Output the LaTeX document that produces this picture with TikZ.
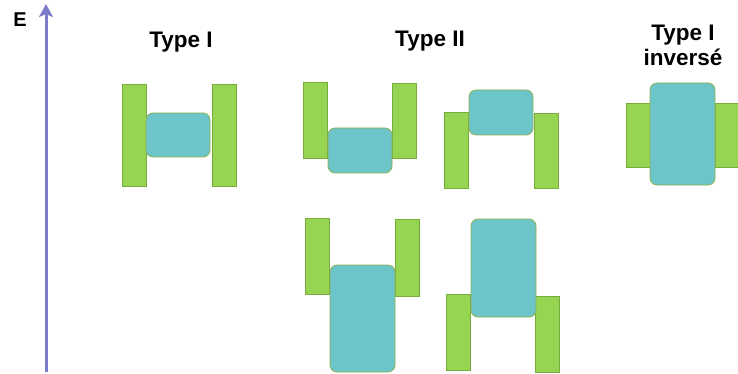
\documentclass[tikz,border=0pt]{standalone}
\usepackage{fontspec}
\setmainfont{Liberation Sans}
\usepackage{tikz}
\usetikzlibrary{arrows.meta}
\definecolor{bargreen}{HTML}{96D552}
\definecolor{barline}{HTML}{78AC3C}
\definecolor{boxblue}{HTML}{6CC5C9}
\definecolor{boxline}{HTML}{8DB050}
\definecolor{axisblue}{HTML}{7B7BCB}
\tikzstyle{bar}=[draw=barline,fill=bargreen,line width=0.8pt,minimum width=24pt,inner sep=0pt]
\tikzstyle{box}=[draw=boxline,fill=boxblue,line width=0.8pt,rounded corners=7pt,inner sep=0pt]
\tikzstyle{title}=[font=\bfseries\fontsize{22.5}{25}\selectfont,align=center,inner sep=0pt]
\tikzstyle{energy} = [draw=axisblue, line width=3pt, -{Stealth[length=13pt,width=14pt,inset=3pt]}]

\begin{document}
\begin{tikzpicture}[x=1pt,y=-1pt]
  \useasboundingbox (0,0) rectangle (738,374);
  % axis
  \coordinate (Ebot) at (46,372);
  \coordinate (Etop) at (46,4);
  \path [energy] (Ebot) -- (Etop);
  \node[title,font=\bfseries\fontsize{20}{24}\selectfont] (E) at (20,20) {E};
  % titles
  \node[title] (typeI) at (181,42) {Type I};
  \node[title] (typeII) at (430,41) {Type II};
  \node[title] (typeIinv) at (683,45) {Type I\\invers\'e};
  % type I
  \node[bar,minimum height=102pt] (IL) at (134,135) {};
  \node[bar,minimum height=102pt] (IR) at (224,135) {};
  \node[box,minimum width=64pt,minimum height=44pt] (IB) at (178,135) {};
  % type II, upper left
  \node[bar,minimum height=76pt] (UL) at (315,120) {};
  \node[bar,minimum height=75pt] (UR) at (404.5,120.5) {};
  \node[box,minimum width=64pt,minimum height=45pt] (UB) at (360,150.5) {};
  % type II, upper right
  \node[bar,minimum height=76pt] (NL) at (456,150) {};
  \node[bar,minimum height=75pt] (NR) at (546,150.5) {};
  \node[box,minimum width=64pt,minimum height=45pt] (NB) at (501,112.5) {};
  % type II, lower left
  \node[bar,minimum height=76pt] (LUL) at (317,256) {};
  \node[bar,minimum height=77pt] (LUR) at (407,257.5) {};
  \node[box,minimum width=65pt,minimum height=107pt] (LUB) at (362.5,318.5) {};
  % type II, lower right
  \node[bar,minimum height=76pt] (LNL) at (458,332) {};
  \node[bar,minimum height=76pt] (LNR) at (547.5,334) {};
  \node[box,minimum width=65pt,minimum height=98pt] (LNB) at (503.5,268) {};
  % type I inverse
  \node[bar,minimum height=64pt] (VL) at (638,135) {};
  \node[bar,minimum height=64pt,minimum width=23pt] (VR) at (726.5,135) {};
  \node[box,minimum width=65pt,minimum height=102pt] (VB) at (682.5,134) {};
\end{tikzpicture}
\end{document}
